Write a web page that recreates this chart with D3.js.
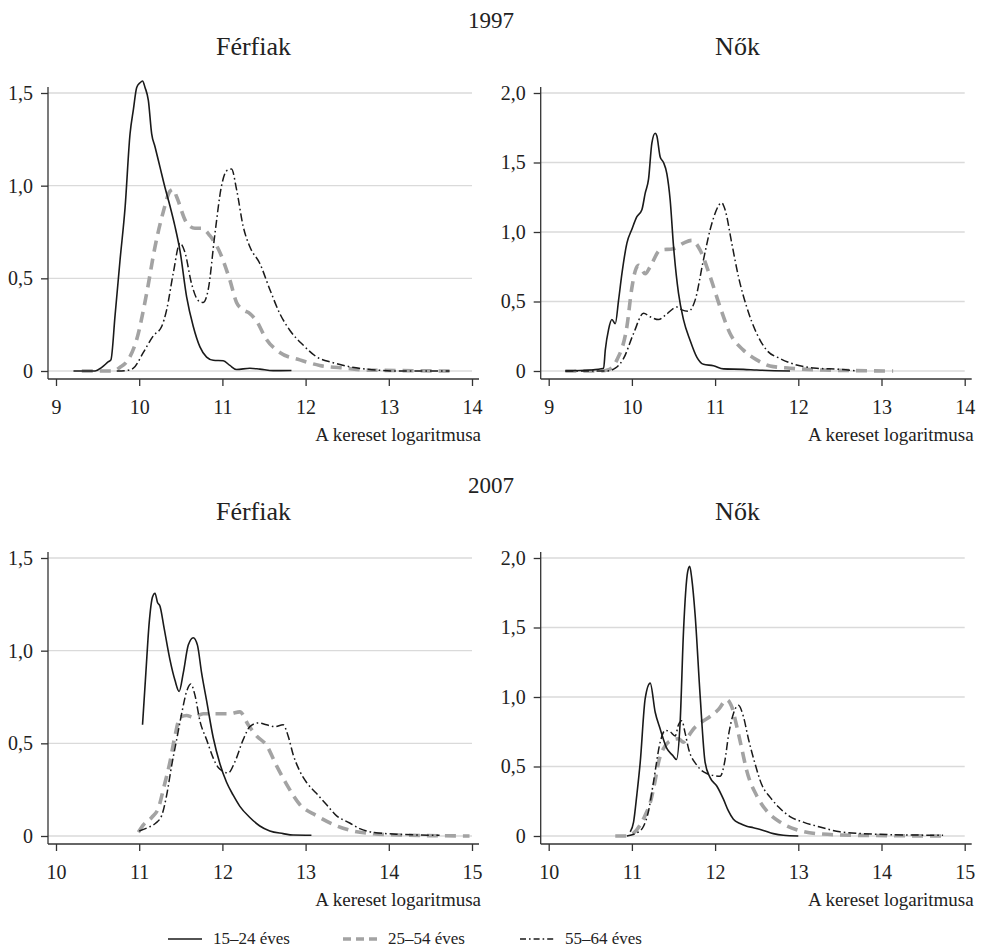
<!DOCTYPE html>
<html>
<head>
<meta charset="utf-8">
<script src="https://cdn.jsdelivr.net/npm/d3@7"></script>
<style>
  body { margin: 0; background: #fff; }
  svg text { font-family: "Liberation Serif", "Times New Roman", serif; fill: #222; }
</style>
</head>
<body>
<div id="chart"></div>
<script>
// chart data

var years = ["1997", "2007"];
var sexes = ["Férfiak", "Nők"];
var groups = ["15–24 éves", "25–54 éves", "55–64 éves"];
var axisTitle = "A kereset logaritmusa";

var xTicks1997 = [9, 10, 11, 12, 13, 14];
var xTicks2007 = [10, 11, 12, 13, 14, 15];
var yTicksFerfi = [0, 0.5, 1, 1.5];
var yTicksNo = [0, 0.5, 1, 1.5, 2];

// 1997, Férfiak
var ferfi97_a = [[9.21,0],[9.47,0],[9.55,0.02],[9.63,0.05],[9.66,0.06],[9.71,0.3],[9.77,0.6],[9.83,0.88],[9.89,1.28],[9.93,1.41],[9.97,1.53],[10.01,1.555],[10.04,1.565],[10.07,1.53],[10.11,1.46],[10.15,1.28],[10.19,1.21],[10.25,1.10],[10.31,0.99],[10.37,0.89],[10.43,0.78],[10.49,0.65],[10.57,0.40],[10.65,0.24],[10.73,0.13],[10.81,0.075],[10.89,0.058],[11.01,0.055],[11.09,0.03],[11.17,0.008],[11.33,0.015],[11.45,0.01],[11.61,0.002],[11.83,0.003]];
var ferfi97_b = [[9.31,0],[9.69,0],[9.77,0.02],[9.85,0.05],[9.97,0.17],[10.09,0.42],[10.19,0.67],[10.29,0.86],[10.37,0.97],[10.41,0.98],[10.45,0.94],[10.57,0.80],[10.67,0.77],[10.75,0.77],[10.85,0.73],[10.97,0.64],[11.09,0.49],[11.17,0.37],[11.25,0.33],[11.33,0.31],[11.41,0.27],[11.53,0.17],[11.69,0.10],[11.93,0.06],[12.17,0.03],[12.49,0.015],[12.73,0.005],[13.73,0]];
var ferfi97_c = [[9.73,0],[9.85,0.003],[9.93,0.015],[10.05,0.10],[10.17,0.19],[10.27,0.24],[10.33,0.33],[10.41,0.53],[10.49,0.69],[10.55,0.64],[10.63,0.47],[10.71,0.38],[10.77,0.37],[10.83,0.44],[10.91,0.74],[10.99,1.0],[11.05,1.08],[11.11,1.09],[11.17,0.98],[11.25,0.78],[11.33,0.67],[11.45,0.58],[11.57,0.44],[11.69,0.31],[11.81,0.22],[11.97,0.14],[12.13,0.077],[12.33,0.045],[12.53,0.023],[12.73,0.01],[13.13,0],[13.73,0]];

// 1997, Nők
var no97_a = [[9.2,0],[9.5,0.007],[9.66,0.02],[9.68,0.15],[9.72,0.30],[9.76,0.37],[9.8,0.34],[9.84,0.51],[9.88,0.70],[9.94,0.92],[10.0,1.02],[10.06,1.11],[10.12,1.16],[10.16,1.28],[10.2,1.38],[10.24,1.64],[10.28,1.71],[10.3,1.69],[10.34,1.54],[10.38,1.50],[10.42,1.42],[10.46,1.23],[10.5,0.90],[10.56,0.56],[10.62,0.37],[10.7,0.22],[10.78,0.10],[10.86,0.048],[10.98,0.038],[11.1,0.015],[11.34,0.012],[11.5,0.007],[11.9,0]];
var no97_b = [[9.2,0],[9.62,0],[9.72,0.01],[9.82,0.08],[9.94,0.32],[10.0,0.6],[10.04,0.72],[10.08,0.76],[10.16,0.70],[10.22,0.75],[10.34,0.87],[10.5,0.88],[10.62,0.92],[10.72,0.94],[10.82,0.87],[10.94,0.68],[11.06,0.46],[11.18,0.27],[11.34,0.15],[11.5,0.08],[11.66,0.036],[11.9,0.02],[12.3,0.007],[13.14,0]];
var no97_c = [[9.2,0],[9.7,0],[9.8,0.02],[9.9,0.09],[10.02,0.27],[10.14,0.415],[10.22,0.39],[10.32,0.37],[10.4,0.40],[10.54,0.46],[10.6,0.44],[10.68,0.43],[10.76,0.51],[10.86,0.80],[10.96,1.06],[11.08,1.21],[11.12,1.16],[11.2,0.92],[11.28,0.68],[11.38,0.46],[11.5,0.27],[11.62,0.15],[11.78,0.09],[11.98,0.043],[12.22,0.02],[12.5,0.012],[12.7,0]];

// 2007, Férfiak
var ferfi07_a = [[11.04,0.60],[11.08,0.88],[11.12,1.15],[11.16,1.29],[11.19,1.31],[11.22,1.26],[11.25,1.24],[11.3,1.12],[11.37,0.95],[11.43,0.84],[11.48,0.78],[11.53,0.88],[11.59,1.03],[11.65,1.07],[11.7,1.03],[11.75,0.88],[11.81,0.73],[11.89,0.53],[11.97,0.39],[12.05,0.29],[12.13,0.22],[12.21,0.16],[12.33,0.10],[12.45,0.054],[12.57,0.027],[12.73,0.013],[12.85,0.005],[13.07,0.004]];
var ferfi07_b = [[10.99,0.02],[11.05,0.06],[11.15,0.10],[11.23,0.15],[11.3,0.27],[11.37,0.40],[11.43,0.54],[11.49,0.64],[11.57,0.65],[11.65,0.64],[11.77,0.66],[11.93,0.66],[12.09,0.66],[12.21,0.67],[12.31,0.60],[12.41,0.54],[12.53,0.49],[12.65,0.38],[12.77,0.28],[12.93,0.17],[13.13,0.11],[13.33,0.063],[13.57,0.027],[13.81,0.013],[14.13,0.005],[14.97,0]];
var ferfi07_c = [[11.0,0.027],[11.1,0.045],[11.2,0.07],[11.27,0.11],[11.33,0.22],[11.39,0.38],[11.45,0.52],[11.51,0.66],[11.57,0.78],[11.62,0.82],[11.67,0.76],[11.73,0.62],[11.81,0.52],[11.89,0.42],[11.95,0.37],[12.07,0.34],[12.15,0.40],[12.25,0.52],[12.33,0.59],[12.43,0.61],[12.53,0.60],[12.63,0.59],[12.73,0.60],[12.79,0.54],[12.85,0.44],[12.93,0.35],[13.01,0.29],[13.13,0.23],[13.25,0.17],[13.37,0.11],[13.53,0.07],[13.65,0.04],[13.81,0.02],[14.13,0.009],[14.61,0.004]];

// 2007, Nők
var no07_a = [[10.98,0.03],[11.02,0.10],[11.06,0.30],[11.1,0.53],[11.16,0.99],[11.22,1.10],[11.28,0.89],[11.34,0.77],[11.42,0.63],[11.49,0.58],[11.535,0.55],[11.58,0.82],[11.62,1.47],[11.67,1.90],[11.695,1.94],[11.72,1.85],[11.76,1.59],[11.82,1.01],[11.88,0.53],[11.94,0.42],[12.02,0.36],[12.1,0.265],[12.16,0.18],[12.22,0.12],[12.3,0.09],[12.38,0.07],[12.46,0.06],[12.58,0.04],[12.7,0.017],[12.82,0.005],[13.0,0]];
var no07_b = [[10.8,0],[10.94,0],[11.02,0.02],[11.1,0.08],[11.16,0.15],[11.22,0.24],[11.28,0.40],[11.32,0.53],[11.38,0.63],[11.48,0.69],[11.56,0.70],[11.62,0.675],[11.68,0.72],[11.74,0.77],[11.84,0.82],[11.94,0.86],[12.04,0.91],[12.14,0.98],[12.2,0.93],[12.26,0.79],[12.32,0.63],[12.38,0.47],[12.5,0.29],[12.62,0.18],[12.78,0.10],[12.98,0.045],[13.26,0.015],[13.7,0.005],[14.74,0]];
var no07_c = [[10.94,0],[11.08,0.03],[11.14,0.07],[11.2,0.18],[11.26,0.39],[11.34,0.675],[11.4,0.76],[11.46,0.75],[11.52,0.72],[11.56,0.80],[11.6,0.83],[11.64,0.74],[11.68,0.63],[11.78,0.51],[11.9,0.45],[12.06,0.43],[12.12,0.55],[12.16,0.72],[12.22,0.88],[12.28,0.94],[12.34,0.86],[12.4,0.70],[12.48,0.52],[12.56,0.37],[12.66,0.28],[12.76,0.21],[12.9,0.14],[13.06,0.10],[13.26,0.065],[13.5,0.03],[13.78,0.017],[14.1,0.01],[14.74,0.005]];


// line styles for the three age groups
var styles = [
  { color: "#1a1a1a", width: 1.6, dash: null, legendDash: null },
  { color: "#a3a3a3", width: 3.6, dash: "11,7", legendDash: "8,5" },
  { color: "#1a1a1a", width: 1.5, dash: "8,3,1.6,3", legendDash: "6,3,1.6,3" }
];

var serif = "'Liberation Serif', 'Times New Roman', serif";
var svgWidth = 983;
var svgHeight = 950;
var rowShift = 465;

var svg = d3.select("#chart")
  .append("svg")
  .attr("width", svgWidth)
  .attr("height", svgHeight)
  .attr("font-family", serif);

// one entry per panel
var panels = [
  { row: 0, col: 0, xDomain: [9, 14], xTicks: xTicks1997, yMax: 1.5, yTicks: yTicksFerfi, series: [ferfi97_a, ferfi97_b, ferfi97_c] },
  { row: 0, col: 1, xDomain: [9, 14], xTicks: xTicks1997, yMax: 2, yTicks: yTicksNo, series: [no97_a, no97_b, no97_c] },
  { row: 1, col: 0, xDomain: [10, 15], xTicks: xTicks2007, yMax: 1.5, yTicks: yTicksFerfi, series: [ferfi07_a, ferfi07_b, ferfi07_c] },
  { row: 1, col: 1, xDomain: [10, 15], xTicks: xTicks2007, yMax: 2, yTicks: yTicksNo, series: [no07_a, no07_b, no07_c] }
];

var colLeft = [48, 540.7];     // y axis line position
var titleX = [253.5, 737.5];

function fmt(v) {
  if (v === 0) return "0";
  return d3.format(".1f")(v).replace(".", ",");
}

// year headers
years.forEach(function(y, i) {
  svg.append("text")
    .attr("x", 491)
    .attr("y", 28 + i * rowShift)
    .attr("text-anchor", "middle")
    .style("font-size", "23px")
    .text(y);
});

panels.forEach(function(p) {
  var dy = p.row * rowShift;
  var left = colLeft[p.col];

  var g = svg.append("g")
    .attr("transform", `translate(0, ${dy})`);

  var x = d3.scaleLinear()
    .domain(p.xDomain)
    .range([left + 8, left + 424]);

  var y = d3.scaleLinear()
    .domain([0, p.yMax])
    .range([371, 93]);

  // panel title
  g.append("text")
    .attr("x", titleX[p.col])
    .attr("y", 55)
    .attr("text-anchor", "middle")
    .style("font-size", "26px")
    .text(sexes[p.col]);

  // grid lines
  g.append("g")
    .selectAll("line")
    .data(p.yTicks)
    .enter()
    .append("line")
    .attr("x1", left)
    .attr("x2", x(p.xDomain[1]))
    .attr("y1", d => y(d))
    .attr("y2", d => y(d))
    .attr("stroke", "#dadada")
    .attr("stroke-width", 1.3);

  // y axis
  var leftAxis = d3.axisLeft(y)
    .tickValues(p.yTicks)
    .tickFormat(fmt)
    .tickSize(7)
    .tickPadding(8);

  var yAxis = g.append("g")
    .attr("transform", `translate(${left}, 0)`)
    .call(leftAxis);
  yAxis.select(".domain")
    .attr("d", "M0,87V379");

  // x axis
  var bottomAxis = d3.axisBottom(x)
    .tickValues(p.xTicks)
    .tickFormat(d3.format("d"))
    .tickSize(7)
    .tickPadding(14);

  var xAxis = g.append("g")
    .attr("transform", "translate(0, 379)")
    .call(bottomAxis);
  xAxis.select(".domain")
    .attr("d", `M${left},0H${left + 431}`);

  [yAxis, xAxis].forEach(function(ax) {
    ax.attr("font-family", serif);
    ax.selectAll(".domain, .tick line")
      .attr("stroke", "#333")
      .attr("stroke-width", 1.3);
    ax.selectAll(".tick text")
      .attr("fill", "#222")
      .style("font-size", "20px");
  });

  // x axis title
  g.append("text")
    .attr("x", left + 433)
    .attr("y", 441)
    .attr("text-anchor", "end")
    .style("font-size", "19px")
    .text(axisTitle);

  // density lines
  var line = d3.line()
    .x(d => x(d[0]))
    .y(d => y(d[1]))
    .curve(d3.curveMonotoneX);

  // grey first so the black lines sit on top
  [1, 2, 0].forEach(function(k) {
    g.append("path")
      .datum(p.series[k])
      .attr("d", line)
      .attr("fill", "none")
      .attr("stroke", styles[k].color)
      .attr("stroke-width", styles[k].width)
      .attr("stroke-dasharray", styles[k].dash)
      .attr("stroke-linejoin", "round");
  });
});

// legend
var legendX = [168, 343, 520];
var legend = svg.append("g");

groups.forEach(function(name, i) {
  legend.append("line")
    .attr("x1", legendX[i])
    .attr("x2", legendX[i] + 34)
    .attr("y1", 939)
    .attr("y2", 939)
    .attr("stroke", styles[i].color)
    .attr("stroke-width", styles[i].width)
    .attr("stroke-dasharray", styles[i].legendDash);

  legend.append("text")
    .attr("x", legendX[i] + 45)
    .attr("y", 944)
    .style("font-size", "17px")
    .text(name);
});
</script>
</body>
</html>
